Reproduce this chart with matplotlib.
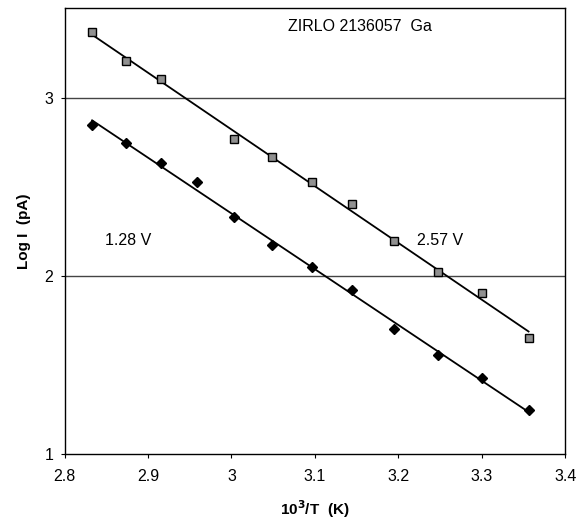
import numpy as np
import matplotlib
matplotlib.use('Agg')
import matplotlib.pyplot as plt

plt.rcParams['font.family'] = ['Liberation Sans', 'DejaVu Sans']

# 10^3/T values for the measurement temperatures
x_high = [2.833, 2.874, 2.915, 3.003, 3.049, 3.096, 3.145, 3.195, 3.247, 3.300, 3.356]
y_high = [3.366, 3.206, 3.103, 2.765, 2.664, 2.527, 2.402, 2.193, 2.022, 1.903, 1.653]

x_low = [2.833, 2.874, 2.915, 2.959, 3.003, 3.049, 3.096, 3.145, 3.195, 3.247, 3.300, 3.356]
y_low = [2.846, 2.745, 2.634, 2.525, 2.330, 2.172, 2.049, 1.921, 1.700, 1.557, 1.428, 1.250]

fig = plt.figure(figsize=(5.87, 5.22), dpi=100)
ax = fig.add_axes([0.110, 0.130, 0.853, 0.854])

# linear trend lines
for xs, ys in ((x_high, y_high), (x_low, y_low)):
    k, b = np.polyfit(xs, ys, 1)
    xx = np.array([xs[0], xs[-1]])
    ax.plot(xx, k * xx + b, color='black', linewidth=1.3, zorder=2)

ax.plot(x_high, y_high, linestyle='none', marker='s', ms=6, mfc='#909090',
        mec='black', mew=1.0, zorder=3)
ax.plot(x_low, y_low, linestyle='none', marker='D', ms=5.5, mfc='black',
        mec='black', zorder=3)

for yv in (2, 3):
    ax.axhline(yv, color='#444444', linewidth=1.0, zorder=1)

ax.set_xlim(2.8, 3.4)
ax.set_ylim(1, 3.5)
ax.set_xticks([2.8, 2.9, 3.0, 3.1, 3.2, 3.3, 3.4])
ax.set_xticklabels(['2.8', '2.9', '3', '3.1', '3.2', '3.3', '3.4'])
ax.set_yticks([1, 2, 3])
ax.tick_params(direction='out', length=3, labelsize=11.5, width=0.8)
ax.tick_params(axis='x', pad=8)
ax.tick_params(axis='y', pad=5)
for s in ax.spines.values():
    s.set_linewidth(1.0)

ax.set_xlabel('10$^\\mathbf{3}$/T  (K)', fontsize=11, fontweight='bold', labelpad=10)
ax.set_ylabel('Log I  (pA)', fontsize=11, fontweight='bold', labelpad=10)

ax.text(3.068, 3.40, 'ZIRLO 2136057  Ga', fontsize=11.5, va='center', ha='left')
ax.text(2.848, 2.20, '1.28 V', fontsize=11.5, va='center', ha='left')
ax.text(3.222, 2.20, '2.57 V', fontsize=11.5, va='center', ha='left')

fig.savefig('out.png', dpi=100)
